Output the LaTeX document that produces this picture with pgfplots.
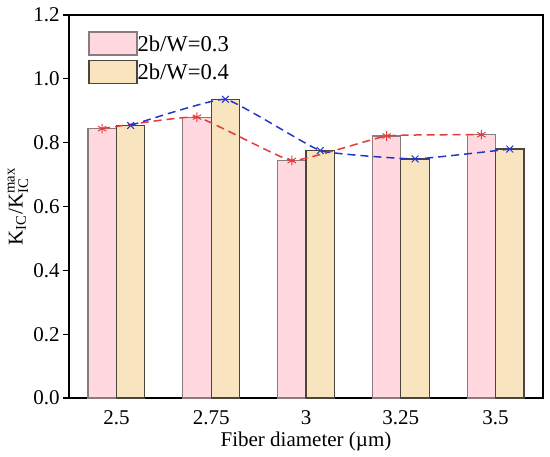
\documentclass[border=0pt]{standalone}
\usepackage{fontspec}
\setmainfont{Liberation Serif}
\usepackage{amsmath}
\usepackage{pgfplots}
\pgfplotsset{compat=1.18}
\definecolor{pinkf}{HTML}{FFD9DF}
\definecolor{pinke}{HTML}{8A7C7C}
\definecolor{tanf}{HTML}{F8E4BE}
\definecolor{tane}{HTML}{4A463C}
\definecolor{redl}{HTML}{E53A3A}
\definecolor{bluel}{HTML}{2236CC}
\begin{document}
\begin{tikzpicture}
\begin{axis}[
  scale only axis,
  width=237pt, height=191.5pt,
  xmin=-0.5, xmax=4.5,
  ymin=0, ymax=1.2,
  xtick={0,1,2,3,4},
  xticklabels={2.5,2.75,3,3.25,3.5},
  ytick={0,0.2,0.4,0.6,0.8,1.0,1.2},
  yticklabels={0.0,0.2,0.4,0.6,0.8,1.0,1.2},
  tick align=outside,
  ytick pos=left,
  xtick pos=bottom,
  x tick style={draw=none},
  y tick style={black, line width=0.6pt},
  major tick length=3pt,
  axis line style={black, line width=0.8pt},
  tick label style={font=\rmfamily\fontsize{10.5}{12}\selectfont},
  x tick label style={anchor=north, inner sep=0pt, yshift=-3pt},
  y tick label style={anchor=east, inner sep=0pt, xshift=-1.5pt},
  label style={font=\rmfamily\fontsize{10.5}{12}\selectfont},
  xlabel={Fiber diameter (µm)},
  ylabel={K$_{\text{IC}}$/K$_{\text{IC}}^{\text{max}}$},
  xlabel style={at={(axis description cs:0.5,0)}, anchor=base, yshift=-24pt},
  ylabel style={at={(axis description cs:-0.1076,0.5)}, anchor=center},
  legend style={draw=none, fill=none, at={(rel axis cs:0,1)}, anchor=north west,
    xshift=9.5pt, yshift=-8pt,
    font=\rmfamily\fontsize{11.3}{13}\selectfont, row sep=2pt, inner sep=0pt,
    nodes={inner sep=0pt, text depth=0pt}},
  legend cell align=left,
  legend image code/.code={\draw[#1] (0pt,-5.75pt) rectangle (24pt,5.75pt);},
  /tikz/every even column/.append style={column sep=3pt},
]
\addplot[ybar, bar width=0.3, bar shift=-0.15, fill=pinkf, draw=pinke, line width=0.6pt]
  coordinates {(0,0.844) (1,0.880) (2,0.744) (3,0.821) (4,0.825)};
\addlegendentry{2b/W=0.3}
\addplot[ybar, bar width=0.3, bar shift=0.15, fill=tanf, draw=tane, line width=0.6pt]
  coordinates {(0,0.854) (1,0.936) (2,0.775) (3,0.749) (4,0.780)};
\addlegendentry{2b/W=0.4}
\addplot[redl, line width=0.75pt, dash pattern=on 4pt off 2.5pt, smooth, tension=0.2, mark=asterisk, mark size=2.4pt,
  mark options={solid, line width=0.5pt}, forget plot]
  coordinates {(-0.15,0.844) (0.85,0.880) (1.85,0.744) (2.85,0.821) (3.85,0.825)};
\addplot[bluel, line width=0.75pt, dash pattern=on 4pt off 2.5pt, smooth, tension=0.2, mark=x, mark size=2.4pt,
  mark options={solid, line width=0.5pt}, forget plot]
  coordinates {(0.15,0.854) (1.15,0.936) (2.15,0.775) (3.15,0.749) (4.15,0.780)};
\coordinate (bl) at (rel axis cs:0,0);
\coordinate (tr) at (rel axis cs:1,1);
\end{axis}
\pgfresetboundingbox
\path ([shift={(-34.5pt,-29pt)}]bl) rectangle ([shift={(3.5pt,7.5pt)}]tr);
\end{tikzpicture}
\end{document}
